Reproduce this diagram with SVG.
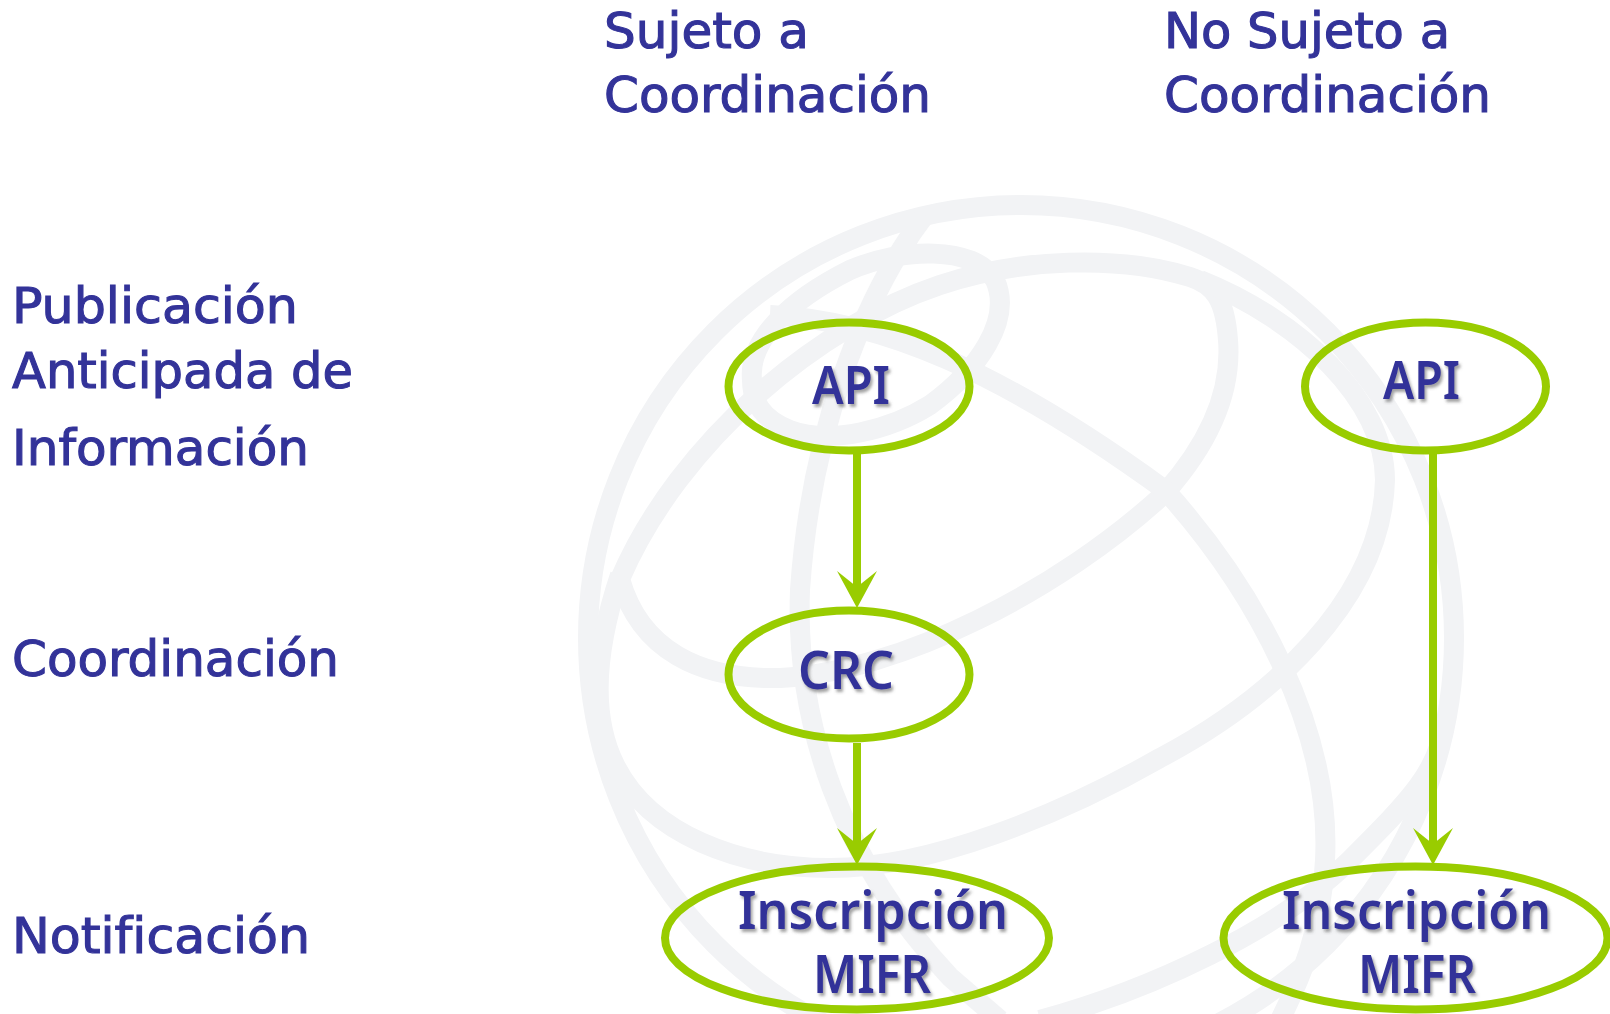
<svg xmlns="http://www.w3.org/2000/svg" width="1610" height="1014" viewBox="0 0 1610 1014">
<style>
.globe{fill:none;stroke:#f2f3f5;stroke-width:20}
.n{fill:none;stroke:#99cc00;stroke-width:8}
.c{fill:none;stroke:#99cc00;stroke-width:8}
.h{fill:#99cc00}
text{fill:#333399;font-family:"DejaVu Sans Condensed","DejaVu Sans","Noto Sans",sans-serif;font-stretch:condensed;font-variant-ligatures:none}
.l{font-size:49px;stroke:#333399;stroke-width:1}
.t{font-size:52px;font-weight:600;font-family:"Noto Sans","Open Sans",sans-serif;font-stretch:normal;filter:url(#sh)}
</style>
<defs>
<filter id="sh" x="-20%" y="-20%" width="140%" height="140%"><feDropShadow dx="2" dy="3" stdDeviation="1.6" flood-color="#555" flood-opacity=".55"/></filter>
<path id="ah" d="M-20 -37 L0 -21 L20 -37 L0 0 Z"/>
</defs>
<rect width="1610" height="1014" fill="#fff"/>
<g id="globe" class="globe">
<circle cx="1021" cy="638" r="433"/>
<path d="M620 579C640 650 700 680 780 678C900 672 1060 590 1165 493C1212 440 1232 390 1228 340C1225 300 1215 285 1190 277C1120 255 1020 258 940 285C820 325 680 440 620 579Z"/>
<path d="M752 380C748 340 790 300 850 270C900 248 975 245 995 280C1013 320 978 370 930 405C890 430 830 445 790 430C760 418 752 400 752 380Z"/>
<path d="M770 315C880 320 1000 370 1165 490C1255 590 1332 730 1325 860C1322 930 1300 980 1280 1020"/>
<path d="M925 215C860 300 810 440 800 590C795 720 840 860 950 977L1000 1020"/>
<path d="M1200 280C1300 320 1385 400 1385 480C1382 600 1270 700 1160 758C1060 815 930 868 830 868C740 868 650 835 615 765C590 715 595 650 620 575"/>
<path d="M1040 1020C1150 990 1280 930 1350 860C1410 800 1440 770 1445 720"/>
</g>
<g id="connectors">
<path class="c" d="M857 454V600"/><use href="#ah" class="h" x="857" y="608"/>
<path class="c" d="M857 743V855"/><use href="#ah" class="h" x="857" y="865"/>
<path class="c" d="M1433 454V855"/><use href="#ah" class="h" x="1433" y="865"/>
</g>
<g id="api1"><ellipse class="n" cx="849" cy="386.5" rx="120.5" ry="64"/><text class="t" x="812" y="404" textLength="78" lengthAdjust="spacingAndGlyphs">API</text></g>
<g id="api2"><ellipse class="n" cx="1425.5" cy="386.5" rx="120.5" ry="64"/><text class="t" x="1383" y="399" textLength="77" lengthAdjust="spacingAndGlyphs">API</text></g>
<g id="crc"><ellipse class="n" cx="849" cy="674.5" rx="120.5" ry="64"/><text class="t" x="798" y="689" textLength="96" lengthAdjust="spacingAndGlyphs">CRC</text></g>
<g id="mifr1"><ellipse class="n" cx="857" cy="938" rx="192" ry="71.5"/><text class="t" x="738" y="929" textLength="270" lengthAdjust="spacingAndGlyphs">Inscripción</text><text class="t" x="813" y="993" textLength="118" lengthAdjust="spacingAndGlyphs">MIFR</text></g>
<g id="mifr2"><ellipse class="n" cx="1415.5" cy="938" rx="192" ry="71.5"/><text class="t" x="1282" y="929" textLength="269" lengthAdjust="spacingAndGlyphs">Inscripción</text><text class="t" x="1358" y="993" textLength="118" lengthAdjust="spacingAndGlyphs">MIFR</text></g>
<g id="labels">
<text class="l" x="604" y="48" textLength="205" lengthAdjust="spacingAndGlyphs">Sujeto a</text>
<text class="l" x="604" y="112" textLength="327" lengthAdjust="spacingAndGlyphs">Coordinación</text>
<text class="l" x="1164" y="48" textLength="286" lengthAdjust="spacingAndGlyphs">No Sujeto a</text>
<text class="l" x="1164" y="112" textLength="327" lengthAdjust="spacingAndGlyphs">Coordinación</text>
<text class="l" x="12" y="323" textLength="286" lengthAdjust="spacingAndGlyphs">Publicación</text>
<text class="l" x="12" y="388" textLength="341" lengthAdjust="spacingAndGlyphs">Anticipada de</text>
<text class="l" x="12" y="465" textLength="297" lengthAdjust="spacingAndGlyphs">Información</text>
<text class="l" x="12" y="676" textLength="327" lengthAdjust="spacingAndGlyphs">Coordinación</text>
<text class="l" x="12" y="953" textLength="298" lengthAdjust="spacingAndGlyphs">Notificación</text>
</g>
</svg>
